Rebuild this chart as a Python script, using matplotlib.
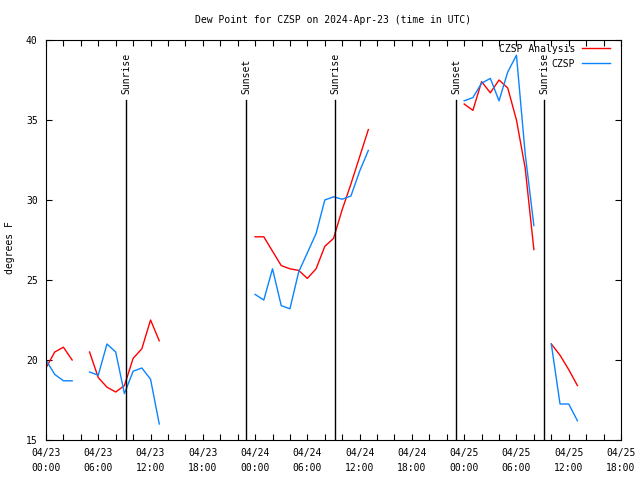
import numpy as np
import matplotlib
matplotlib.use('Agg')
import matplotlib.pyplot as plt
from matplotlib.ticker import MultipleLocator

nan = np.nan

# hours since 2024-04-23 00:00 UTC
hours = np.arange(0, 62)

analysis = [19.5, 20.5, 20.8, 20.0, nan, 20.5, 18.9, 18.3, 18.0, 18.4, 20.1, 20.7, 22.5, 21.2,
            nan, nan, nan, nan, nan, nan, nan, nan, nan, nan,
            27.7, 27.7, 26.8, 25.9, 25.7, 25.6, 25.1, 25.7, 27.1, 27.6, 29.4, 31.0, 32.7, 34.4,
            nan, nan, nan, nan, nan, nan, nan, nan, nan, nan,
            36.0, 35.6, 37.4, 36.7, 37.5, 37.0, 35.0, 32.0, 26.9, nan, 21.0, 20.3, 19.4, 18.4]

observed = [20.0, 19.1, 18.7, 18.7, nan, 19.25, 19.05, 21.0, 20.5, 17.9, 19.3, 19.5, 18.8, 16.0,
            nan, nan, nan, nan, nan, nan, nan, nan, nan, nan,
            24.1, 23.75, 25.7, 23.4, 23.2, 25.5, 26.7, 27.9, 30.0, 30.2, 30.05, 30.25, 31.8, 33.1,
            nan, nan, nan, nan, nan, nan, nan, nan, nan, nan,
            36.2, 36.4, 37.3, 37.6, 36.2, 38.0, 39.05, 32.9, 28.4, nan, 21.0, 17.25, 17.25, 16.2]

sun_events = [9.2, 23.0, 33.2, 47.05, 57.15]
sun_labels = ['Sunrise', 'Sunset', 'Sunrise', 'Sunset', 'Sunrise']

tick_hours = np.arange(0, 67, 6)
tick_labels = ['04/23\n00:00', '04/23\n06:00', '04/23\n12:00', '04/23\n18:00',
               '04/24\n00:00', '04/24\n06:00', '04/24\n12:00', '04/24\n18:00',
               '04/25\n00:00', '04/25\n06:00', '04/25\n12:00', '04/25\n18:00']

plt.rcParams['font.family'] = 'DejaVu Sans Mono'
fs = 7

fig = plt.figure(figsize=(6.4, 4.8), dpi=100)
ax = fig.add_axes([46/640, 40/480, 575/640, 400/480])

ax.plot(hours, analysis, color='#ff0000', lw=1, label='CZSP Analysis')
ax.plot(hours, observed, color='#0a84ff', lw=1, label='CZSP')

# sunrise / sunset markers
line_top = 36.25
for h, lab in zip(sun_events, sun_labels):
    ax.plot([h, h], [15, line_top], color='black', lw=1)
    ax.annotate(lab, xy=(h, line_top), xytext=(0, 4), textcoords='offset points',
                rotation=90, ha='center', va='bottom', fontsize=fs)

ax.set_xlim(0, 66)
ax.set_ylim(15, 40)
ax.set_xticks(tick_hours)
ax.set_xticklabels(tick_labels, linespacing=1.55)
ax.xaxis.set_minor_locator(MultipleLocator(2))
ax.yaxis.set_major_locator(MultipleLocator(5))
ax.tick_params(which='both', direction='in', top=True, right=True, labelsize=fs,
               length=4, width=0.8)
ax.tick_params(axis='x', pad=6)
ax.tick_params(axis='y', pad=6)
for s in ax.spines.values():
    s.set_linewidth(0.8)

ax.set_title('Dew Point for CZSP on 2024-Apr-23 (time in UTC)', fontsize=fs, pad=12)
fig.text(10/640, 1 - 248/480, 'degrees F', rotation=90, ha='center', va='center', fontsize=fs)

ax.legend(loc='upper right', bbox_to_anchor=(0.988, 1.0), frameon=False, markerfirst=False,
          fontsize=fs, handlelength=2.9, handletextpad=0.7, labelspacing=0.5,
          borderaxespad=0)

fig.savefig('out.png', dpi=100)
